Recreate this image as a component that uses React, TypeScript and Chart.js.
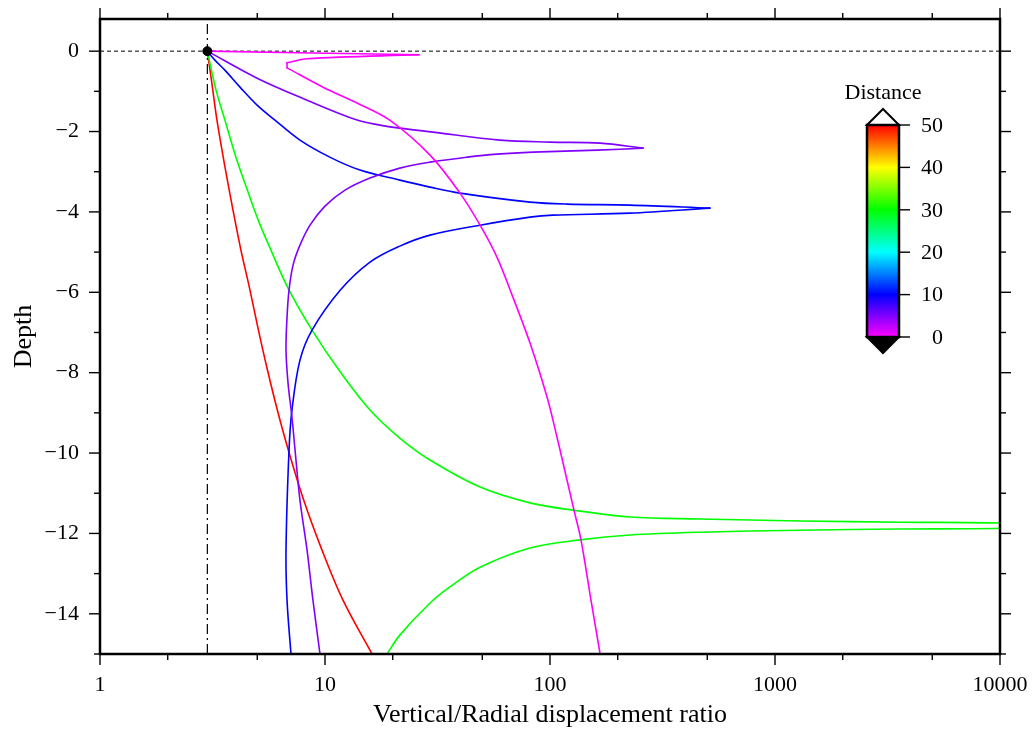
import React, { useEffect, useRef } from 'react';
import { Chart, registerables } from 'chart.js';

Chart.register(...registerables);

// ---------------- data ----------------
const xRange = [1, 10000];
const yRange = [-15, 0.8];
const xTicks = [1, 10, 100, 1000, 10000];
const xTickLabels = ['1', '10', '100', '1000', '10000'];
const xMinorTicks = [2, 5, 20, 50, 200, 500, 2000, 5000];
const yTicks = [0, -2, -4, -6, -8, -10, -12, -14];
const yTickLabels = ['0', '\u22122', '\u22124', '\u22126', '\u22128', '\u221210', '\u221212', '\u221214'];
const yMinorTicks = [-1, -3, -5, -7, -9, -11, -13, -15];

const refRatio = 3; // vertical dash-dot line
const refDepth = 0; // horizontal dashed line

const distanceTicks = [0, 10, 20, 30, 40, 50];
const distanceTickLabels = ['0', '10', '20', '30', '40', '50'];
const cmapValues = [0, 10, 20, 30, 40, 50];
const cmapColors = ['#ff00ff', '#0000ff', '#00ffff', '#00ff00', '#ffff00', '#ff0000'];

const curveDistances = [0, 5, 10, 30, 50];

const curveD0: [number, number][] = [
  [3, 0], [26.2, -0.09], [8.32, -0.19], [6.78, -0.29], [6.78, -0.415], [9.8, -0.896],
  [13.88, -1.29], [19.4, -1.716], [29.3, -2.587], [39.8, -3.532], [48.9, -4.328],
  [58.1, -5.124], [69.2, -6.194], [81.5, -7.264], [97, -8.607], [107.4, -9.602],
  [119, -10.67], [127.8, -11.42], [137.3, -12.16], [152.1, -13.66], [167, -15.0],
];

const curveD5: [number, number][] = [
  [3, 0], [4.99, -0.672], [8.32, -1.219], [13.88, -1.716], [17.56, -1.84], [21.5, -1.915],
  [30.2, -2.015], [59.9, -2.214], [100, -2.264], [167, -2.289], [259, -2.413],
  [162, -2.463], [84, -2.512], [58.1, -2.562], [42.8, -2.637], [29.3, -2.761], [21.5, -2.91],
  [15.85, -3.159], [12.27, -3.458], [10.0, -3.856], [8.58, -4.328], [7.74, -4.826],
  [7.21, -5.323], [6.92, -5.945], [6.78, -6.617], [6.71, -7.438], [6.85, -8.259],
  [7.13, -9.104], [7.36, -9.925], [7.74, -11.17], [8.32, -12.41], [8.84, -13.66], [9.5, -15.0],
];

const curveD10: [number, number][] = [
  [3, 0], [3.24, -0.224], [3.59, -0.473], [4.19, -0.896], [4.99, -1.343], [5.99, -1.716],
  [7.74, -2.214], [10.5, -2.637], [14.3, -2.96], [21.5, -3.209], [29.3, -3.383],
  [39.8, -3.532], [81.5, -3.756], [119, -3.806], [226.8, -3.831], [514, -3.905],
  [226.8, -4.03], [103, -4.08], [81.5, -4.13], [48.9, -4.33], [29.3, -4.577], [21.5, -4.851],
  [15.85, -5.249], [11.7, -5.945], [8.76, -6.94], [7.74, -7.687], [7.13, -8.93],
  [6.92, -9.925], [6.71, -12.41], [6.78, -13.66], [7.06, -15.0],
];

const curveD30: [number, number][] = [
  [3, 0], [3.28, -0.97], [3.59, -1.716], [4.02, -2.637], [4.55, -3.507], [5.09, -4.254],
  [5.75, -4.95], [6.85, -5.896], [8.76, -6.94], [11.7, -7.985], [15.85, -8.93],
  [21.5, -9.627], [29.3, -10.174], [48.9, -10.846], [81.5, -11.24], [126.5, -11.42],
  [226.8, -11.59], [464, -11.64], [1292, -11.69], [3594, -11.72], [10000, -11.74],
  [16000, -11.8], [10000, -11.87], [3594, -11.89], [1292, -11.92], [464, -11.97],
  [226.8, -12.04], [136, -12.16], [81.5, -12.36], [48.9, -12.84], [35.9, -13.33],
  [29.3, -13.73], [21.5, -14.53], [18.86, -15.0],
];

const curveD50: [number, number][] = [
  [3, 0], [3.15, -0.846], [3.31, -1.716], [3.58, -2.836], [3.9, -3.955], [4.23, -4.95],
  [4.62, -5.896], [5.06, -6.94], [5.55, -7.935], [6.14, -8.93], [6.85, -9.9],
  [8.04, -11.17], [9.69, -12.41], [12.02, -13.66], [16.18, -15.0],
];

const curves = [curveD0, curveD5, curveD10, curveD30, curveD50];
// indices of sharp corners (turning points) in each curve
const curveCorners = [[1, 3, 4], [10], [15], [21], []];

// ---------------- helpers ----------------
function hexToRgb(h: string) {
  const n = parseInt(h.slice(1), 16);
  return [(n >> 16) & 255, (n >> 8) & 255, n & 255];
}
function colorFor(v: number) {
  for (let i = 0; i < cmapValues.length - 1; i++) {
    if (v >= cmapValues[i] && v <= cmapValues[i + 1]) {
      const t = (v - cmapValues[i]) / (cmapValues[i + 1] - cmapValues[i]);
      const a = hexToRgb(cmapColors[i]);
      const b = hexToRgb(cmapColors[i + 1]);
      const c = a.map((x, k) => Math.round(x + (b[k] - x) * t));
      return `rgb(${c[0]},${c[1]},${c[2]})`;
    }
  }
  return cmapColors[cmapColors.length - 1];
}

const FONT = "'Liberation Serif', 'DejaVu Serif', serif";

const framePlugin = {
  id: 'gmtFrame',
  afterDraw(chart: any) {
    const { ctx, chartArea: a, scales } = chart;
    const x = scales.x;
    const y = scales.y;
    ctx.save();
    ctx.strokeStyle = '#000';
    ctx.lineWidth = 1.4;
    const line = (x1: number, y1: number, x2: number, y2: number) => {
      ctx.beginPath();
      ctx.moveTo(x1, y1);
      ctx.lineTo(x2, y2);
      ctx.stroke();
    };
    const MAJ = 11, MIN = 6;
    xTicks.forEach((v) => {
      const p = x.getPixelForValue(v);
      line(p, a.bottom, p, a.bottom + MAJ);
      line(p, a.top, p, a.top - MAJ);
    });
    xMinorTicks.forEach((v) => {
      const p = x.getPixelForValue(v);
      line(p, a.bottom, p, a.bottom + MIN);
      line(p, a.top, p, a.top - MIN);
    });
    yTicks.forEach((v) => {
      const p = y.getPixelForValue(v);
      line(a.left, p, a.left - MAJ, p);
      line(a.right, p, a.right + MAJ, p);
    });
    yMinorTicks.forEach((v) => {
      const p = y.getPixelForValue(v);
      line(a.left, p, a.left - MIN, p);
      line(a.right, p, a.right + MIN, p);
    });
    ctx.lineWidth = 2.5;
    ctx.strokeRect(a.left, a.top, a.right - a.left, a.bottom - a.top);

    // ---- colour bar ----
    const cb = { left: 867, right: 899, top: 125, bottom: 337, tri: 16 };
    const vMin = distanceTicks[0];
    const vMax = distanceTicks[distanceTicks.length - 1];
    const vy = (v: number) => cb.bottom - ((v - vMin) / (vMax - vMin)) * (cb.bottom - cb.top);
    const grad = ctx.createLinearGradient(0, cb.bottom, 0, cb.top);
    cmapValues.forEach((v, i) => grad.addColorStop((v - vMin) / (vMax - vMin), cmapColors[i]));
    ctx.fillStyle = grad;
    ctx.fillRect(cb.left, cb.top, cb.right - cb.left, cb.bottom - cb.top);
    const cx = (cb.left + cb.right) / 2;
    ctx.beginPath();
    ctx.moveTo(cb.left, cb.top);
    ctx.lineTo(cx, cb.top - cb.tri);
    ctx.lineTo(cb.right, cb.top);
    ctx.closePath();
    ctx.fillStyle = '#fff';
    ctx.fill();
    ctx.lineWidth = 2;
    ctx.stroke();
    ctx.beginPath();
    ctx.moveTo(cb.left, cb.bottom);
    ctx.lineTo(cx, cb.bottom + cb.tri);
    ctx.lineTo(cb.right, cb.bottom);
    ctx.closePath();
    ctx.fillStyle = '#000';
    ctx.fill();
    ctx.stroke();
    ctx.lineWidth = 2.5;
    ctx.strokeRect(cb.left, cb.top, cb.right - cb.left, cb.bottom - cb.top);
    ctx.lineWidth = 1.4;
    ctx.font = `22px ${FONT}`;
    ctx.fillStyle = '#000';
    ctx.textAlign = 'right';
    ctx.textBaseline = 'middle';
    distanceTicks.forEach((v, i) => {
      const p = vy(v);
      line(cb.right, p, cb.right + 11, p);
      ctx.fillText(distanceTickLabels[i], 943, p + 1);
    });
    ctx.textAlign = 'center';
    ctx.fillText('Distance', cx, 93);
    ctx.restore();
  },
};

const zeroPad = (s: any) => {
  s.paddingTop = 0;
  s.paddingBottom = 0;
  s.paddingLeft = 0;
  s.paddingRight = 0;
};

export default function App() {
  const ref = useRef<HTMLCanvasElement | null>(null);
  useEffect(() => {
    if (!ref.current) return;
    const datasets: any[] = [];
    datasets.push({
      label: 'point',
      data: [{ x: refRatio, y: refDepth }],
      showLine: false,
      pointRadius: 4.5,
      pointBackgroundColor: '#000',
      pointBorderColor: '#000',
    });
    curves.forEach((c, i) => {
      const col = colorFor(curveDistances[i]);
      const cuts = [0, ...curveCorners[i], c.length - 1];
      for (let k = 0; k < cuts.length - 1; k++) {
        const seg = c.slice(cuts[k], cuts[k + 1] + 1);
        datasets.push({
          label: 'd' + curveDistances[i] + '_' + k,
          data: seg.map(([x, y]) => ({ x, y })),
          showLine: true,
          borderColor: col,
          backgroundColor: col,
          borderWidth: 1.6,
          pointRadius: 0,
          tension: 0.35,
          borderCapStyle: 'round',
        });
      }
    });
    datasets.push({
      label: 'zero',
      data: [{ x: xRange[0], y: refDepth }, { x: xRange[1], y: refDepth }],
      showLine: true,
      borderColor: '#000',
      borderWidth: 1,
      borderDash: [4, 3],
      pointRadius: 0,
    });
    datasets.push({
      label: 'ratio',
      data: [{ x: refRatio, y: yRange[0] }, { x: refRatio, y: yRange[1] }],
      showLine: true,
      borderColor: '#000',
      borderWidth: 1.2,
      borderDash: [10, 4, 2, 4],
      pointRadius: 0,
    });

    const chart = new Chart(ref.current, {
      type: 'scatter',
      data: { datasets },
      plugins: [framePlugin],
      options: {
        responsive: false,
        animation: false,
        devicePixelRatio: 1,
        events: [],
        layout: { padding: { left: 0, top: 19, right: 34, bottom: 0 } },
        plugins: { legend: { display: false }, tooltip: { enabled: false } },
        scales: {
          x: {
            type: 'logarithmic',
            position: 'bottom',
            min: xRange[0],
            max: xRange[1],
            grid: { display: false, drawTicks: false },
            border: { display: false },
            afterBuildTicks: (s: any) => {
              s.ticks = xTicks.map((value) => ({ value }));
            },
            afterFit: (s: any) => {
              s.height = 77;
              zeroPad(s);
            },
            ticks: {
              autoSkip: false,
              maxRotation: 0,
              padding: 18,
              color: '#000',
              font: { family: FONT, size: 22 },
              callback: (_v: any, i: number) => xTickLabels[i],
            },
            title: {
              display: true,
              text: 'Vertical/Radial displacement ratio',
              color: '#000',
              font: { family: FONT, size: 26 },
              padding: { top: 0, bottom: 0 },
            },
          },
          y: {
            type: 'linear',
            position: 'left',
            min: yRange[0],
            max: yRange[1],
            grid: { display: false, drawTicks: false },
            border: { display: false },
            afterBuildTicks: (s: any) => {
              s.ticks = yTicks.map((value) => ({ value }));
            },
            afterFit: (s: any) => {
              s.width = 100;
              zeroPad(s);
            },
            ticks: {
              autoSkip: false,
              padding: 21,
              color: '#000',
              font: { family: FONT, size: 22 },
              callback: (_v: any, i: number) => yTickLabels[i],
            },
            title: {
              display: true,
              text: 'Depth',
              color: '#000',
              font: { family: FONT, size: 26 },
              padding: { top: 9, bottom: 0 },
            },
          },
        },
      } as any,
    });
    return () => chart.destroy();
  }, []);
  return (
    <div style={{ position: 'absolute', left: 0, top: 0, width: 1034, height: 731, background: '#fff' }}>
      <canvas ref={ref} width={1034} height={731} />
    </div>
  );
}
